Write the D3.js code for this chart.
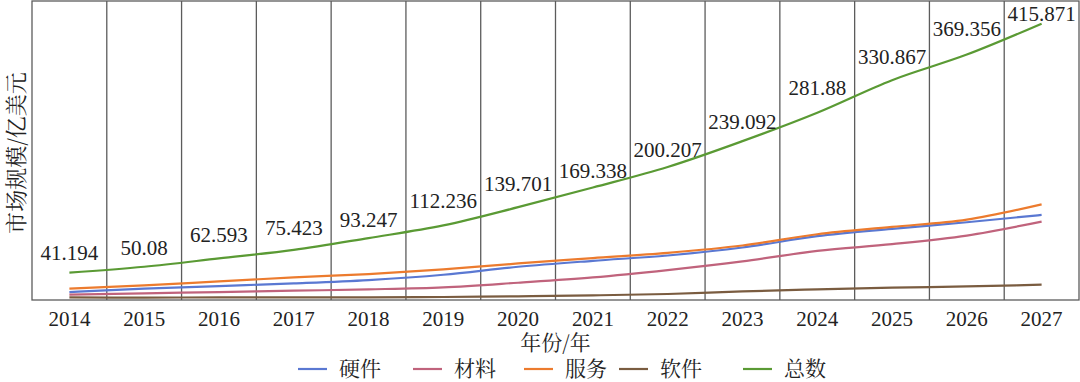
<!DOCTYPE html>
<html>
<head>
<meta charset="utf-8">
<script src="https://cdn.jsdelivr.net/npm/d3@7"></script>
<style>
body{margin:0;background:#fff;}
</style>
</head>
<body>
<div id="plot"></div>
<script>
// market size by year (100M USD)
var years = ['2014','2015','2016','2017','2018','2019','2020','2021','2022','2023','2024','2025','2026','2027'];
var hardware = [12,17,21,25,30,38,50,59,67,79,96,107,117,128];
var material = [8,10,12,14,16,19,26,34,45,58,74,84,97,118];
var service = [17,22,28,34,39,46,55,63,71,82,99,110,121,144];
var software = [4,3.5,4,4,4,4.5,5.5,7,9,13,16,18.5,20.5,23];
var total = [41.194,50.08,62.593,75.423,93.247,112.236,139.701,169.338,200.207,239.092,281.88,330.867,369.356,415.871];

var names = ['硬件','材料','服务','软件','总数'];
var colors = ['#5a78d2','#c0637c','#ec7b2e','#7a5c40','#5a9a34'];
var series = [hardware,material,service,software,total];

// how far each total label sits above its point
var lift = [12.5,11.5,16.5,15,11.5,17,16,9,9.5,12,18,16.5,18.5,2.5];

var SERIF = '"Liberation Serif"';
var CJK = '"Noto Serif CJK SC"';

var W = 1080, H = 382;
var margin = {t:1,r:1,b:82,l:32};

var svg = d3.select('#plot')
	.append('svg')
	.attr('width',W)
	.attr('height',H);

var x = d3.scaleBand().domain(years).range([margin.l,W-margin.r]);
var y = d3.scaleLinear().domain([0,450]).range([H-margin.b,margin.t]);

// grid lines between years
svg.selectAll('.grid')
	.data(years.slice(1))
	.enter()
	.append('line').attr('class','grid')
	.attr('x1',function(d){return x(d)})
	.attr('x2',function(d){return x(d)})
	.attr('y1',y(450))
	.attr('y2',y(0))
	.attr('stroke','#5c5c5c')
	.attr('stroke-width',1.3);

svg.append('rect')
	.attr('x',x.range()[0])
	.attr('y',y(450))
	.attr('width',x.range()[1]-x.range()[0])
	.attr('height',y(0)-y(450))
	.attr('fill','none')
	.attr('stroke','#5c5c5c')
	.attr('stroke-width',1.3);

// x axis
var xAxis = svg.append('g')
	.attr('transform','translate(0,'+y(0)+')')
	.call(d3.axisBottom(x).tickSize(0).tickPadding(11));
xAxis.select('.domain').remove();
xAxis.attr('font-family',null).attr('font-size',null);
xAxis.selectAll('text')
	.style('font-family',SERIF)
	.style('font-size','21px')
	.attr('fill','#222');

var line = d3.line()
	.x(function(d,i){return x(years[i])+x.bandwidth()/2})
	.y(function(d){return y(d)})
	.curve(d3.curveMonotoneX);

svg.selectAll('.series')
	.data(series)
	.enter()
	.append('path').attr('class','series')
	.attr('d',line)
	.attr('fill','none')
	.attr('stroke',function(d,i){return colors[i]})
	.attr('stroke-width',2.2);

// labels on total
svg.selectAll('.lbl')
	.data(total)
	.enter()
	.append('text').attr('class','lbl')
	.attr('x',function(d,i){return x(years[i])+x.bandwidth()/2})
	.attr('y',function(d,i){return y(d)-lift[i]})
	.attr('text-anchor','middle')
	.style('font-family',SERIF)
	.style('font-size','21px')
	.attr('fill','#222')
	.text(function(d){return d});

// axis titles
svg.append('text')
	.attr('transform','translate(16,153) rotate(-90)')
	.attr('text-anchor','middle')
	.attr('dy','0.35em')
	.style('font-family',CJK)
	.style('font-size','22px')
	.attr('fill','#222')
	.text('市场规模/亿美元');

svg.append('text')
	.attr('x',(x.range()[0]+x.range()[1])/2)
	.attr('y',343)
	.attr('dy','0.35em')
	.attr('text-anchor','middle')
	.style('font-family',CJK)
	.style('font-size','21px')
	.attr('fill','#222')
	.text('年份/年');

// legend
var legX = [298,413,524,619,743];
var leg = svg.selectAll('.leg')
	.data(names)
	.enter()
	.append('g').attr('class','leg')
	.attr('transform',function(d,i){return 'translate('+legX[i]+',369)'});
leg.append('line')
	.attr('x1',0).attr('x2',29)
	.attr('stroke',function(d,i){return colors[i]})
	.attr('stroke-width',2.2);
leg.append('text')
	.attr('x',41)
	.attr('dy','0.35em')
	.style('font-family',CJK)
	.style('font-size','21px')
	.attr('fill','#222')
	.text(function(d){return d});
</script>
</body>
</html>
